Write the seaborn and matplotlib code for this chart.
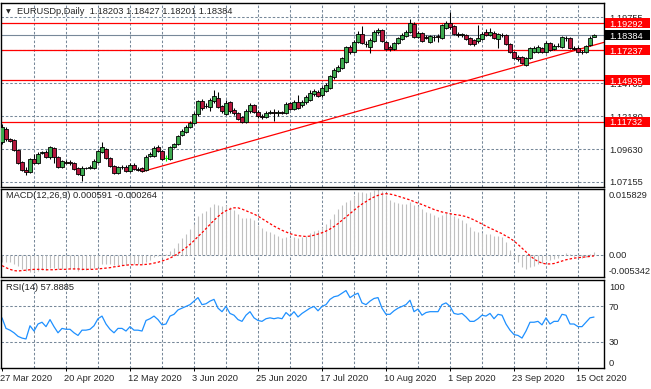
import numpy as np
import pandas as pd
import matplotlib
matplotlib.use("Agg")
import matplotlib.pyplot as plt
import matplotlib.transforms as mtransforms
from matplotlib.patches import Rectangle
import seaborn as sns

sns.set_style("white")
plt.rcParams['font.family'] = ['Liberation Sans', 'DejaVu Sans']

# ---------------- data ----------------
open_ = [1.1020, 1.1119, 1.1043, 1.1035, 1.0959, 1.0867, 1.0806, 1.0790, 1.0890, 1.0859,
         1.0936, 1.0943, 1.0905, 1.0974, 1.0905, 1.0829, 1.0867, 1.0867, 1.0859, 1.0821,
         1.0768, 1.0821, 1.0821, 1.0821, 1.0867, 1.0943, 1.0966, 1.0898, 1.0836, 1.0783,
         1.0829, 1.0829, 1.0798, 1.0844, 1.0813, 1.0821, 1.0806, 1.0913, 1.0913, 1.0982,
         1.0951, 1.0898, 1.0890, 1.0982, 1.1005, 1.1074, 1.1096, 1.1135, 1.1165, 1.1234,
         1.1334, 1.1295, 1.1288, 1.1334, 1.1356, 1.1295, 1.1234, 1.1326, 1.1265, 1.1242,
         1.1211, 1.1173, 1.1257, 1.1303, 1.1249, 1.1219, 1.1211, 1.1242, 1.1249, 1.1242,
         1.1249, 1.1242, 1.1318, 1.1272, 1.1326, 1.1303, 1.1326, 1.1341, 1.1387, 1.1402,
         1.1379, 1.1410, 1.1433, 1.1517, 1.1563, 1.1586, 1.1632, 1.1747, 1.1708, 1.1785,
         1.1846, 1.1770, 1.1747, 1.1793, 1.1861, 1.1877, 1.1785, 1.1747, 1.1731, 1.1777,
         1.1808, 1.1831, 1.1861, 1.1923, 1.1823, 1.1854, 1.1823, 1.1785, 1.1823, 1.1831,
         1.1816, 1.1892, 1.1930, 1.1907, 1.1846, 1.1839, 1.1839, 1.1816, 1.1800, 1.1793,
         1.1808, 1.1861, 1.1839, 1.1854, 1.1808, 1.1839, 1.1839, 1.1770, 1.1708, 1.1670,
         1.1670, 1.1609, 1.1663, 1.1708, 1.1708, 1.1739, 1.1708, 1.1777, 1.1731, 1.1754,
         1.1747, 1.1816, 1.1816, 1.1739, 1.1739, 1.1708, 1.1708, 1.1762, 1.18203]
high = [1.1158, 1.1135, 1.1051, 1.1043, 1.0966, 1.0875, 1.0829, 1.0898, 1.0928, 1.0943,
        1.0951, 1.0959, 1.0989, 1.0982, 1.0913, 1.0882, 1.0882, 1.0882, 1.0867, 1.0829,
        1.0836, 1.0829, 1.0844, 1.0890, 1.0959, 1.1020, 1.0974, 1.0905, 1.0844, 1.0836,
        1.0844, 1.0844, 1.0859, 1.0859, 1.0829, 1.0829, 1.0921, 1.0943, 1.0989, 1.0997,
        1.0959, 1.0921, 1.0989, 1.1012, 1.1074, 1.1119, 1.1150, 1.1181, 1.1249, 1.1341,
        1.1349, 1.1318, 1.1356, 1.1418, 1.1402, 1.1303, 1.1341, 1.1334, 1.1280, 1.1249,
        1.1219, 1.1272, 1.1318, 1.1311, 1.1265, 1.1234, 1.1257, 1.1265, 1.1272, 1.1265,
        1.1257, 1.1326, 1.1326, 1.1341, 1.1380, 1.1341, 1.1380, 1.1418, 1.1425, 1.1418,
        1.1448, 1.1471, 1.1532, 1.1586, 1.1609, 1.1670, 1.1754, 1.1762, 1.1800, 1.1869,
        1.1907, 1.1793, 1.1816, 1.1877, 1.1892, 1.1884, 1.1793, 1.1762, 1.1785, 1.1823,
        1.1854, 1.1877, 1.1961, 1.1938, 1.1869, 1.1861, 1.1839, 1.1839, 1.1839, 1.1846,
        1.1923, 1.1946, 1.2011, 1.1915, 1.1861, 1.1854, 1.1846, 1.1823, 1.1808, 1.1915,
        1.1861, 1.1884, 1.1892, 1.1869, 1.1854, 1.1854, 1.1846, 1.1777, 1.1716, 1.1685,
        1.1678, 1.1670, 1.1747, 1.1754, 1.1762, 1.1747, 1.1793, 1.1785, 1.1770, 1.1777,
        1.1831, 1.1831, 1.1823, 1.1754, 1.1754, 1.1724, 1.1762, 1.1831, 1.18427]
low = [1.1005, 1.1028, 1.1020, 1.0951, 1.0852, 1.0798, 1.0768, 1.0783, 1.0852, 1.0852,
       1.0928, 1.0898, 1.0890, 1.0859, 1.0821, 1.0821, 1.0852, 1.0844, 1.0806, 1.0768,
       1.0722, 1.0813, 1.0817, 1.0813, 1.0859, 1.0936, 1.0890, 1.0829, 1.0775, 1.0775,
       1.0813, 1.0790, 1.0790, 1.0806, 1.0798, 1.0790, 1.0798, 1.0905, 1.0905, 1.0943,
       1.0882, 1.0875, 1.0882, 1.0974, 1.0997, 1.1066, 1.1089, 1.1127, 1.1158, 1.1219,
       1.1265, 1.1280, 1.1257, 1.1318, 1.1280, 1.1242, 1.1227, 1.1242, 1.1227, 1.1188,
       1.1165, 1.1165, 1.1242, 1.1242, 1.1204, 1.1196, 1.1204, 1.1234, 1.1181, 1.1219,
       1.1234, 1.1234, 1.1265, 1.1265, 1.1272, 1.1288, 1.1311, 1.1334, 1.1372, 1.1364,
       1.1364, 1.1402, 1.1425, 1.1502, 1.1555, 1.1578, 1.1624, 1.1693, 1.1701, 1.1777,
       1.1770, 1.1747, 1.1701, 1.1785, 1.1846, 1.1785, 1.1724, 1.1716, 1.1724, 1.1770,
       1.1800, 1.1823, 1.1854, 1.1816, 1.1816, 1.1785, 1.1808, 1.1777, 1.1793, 1.1785,
       1.1808, 1.1884, 1.1884, 1.1839, 1.1823, 1.1823, 1.1800, 1.1762, 1.1754, 1.1777,
       1.1800, 1.1831, 1.1831, 1.1808, 1.1739, 1.1823, 1.1762, 1.1701, 1.1655, 1.1640,
       1.1617, 1.1605, 1.1655, 1.1701, 1.1701, 1.1701, 1.1701, 1.1716, 1.1724, 1.1747,
       1.1739, 1.1793, 1.1731, 1.1724, 1.1701, 1.1693, 1.1701, 1.1754, 1.18201]
close = [1.1135, 1.1043, 1.1028, 1.0959, 1.0859, 1.0806, 1.0790, 1.0890, 1.0859, 1.0928,
         1.0943, 1.0905, 1.0982, 1.0905, 1.0829, 1.0875, 1.0863, 1.0859, 1.0813, 1.0775,
         1.0821, 1.0823, 1.0829, 1.0875, 1.0951, 1.0982, 1.0898, 1.0836, 1.0783, 1.0829,
         1.0825, 1.0798, 1.0844, 1.0813, 1.0806, 1.0798, 1.0905, 1.0928, 1.0974, 1.0951,
         1.0890, 1.0898, 1.0982, 1.1005, 1.1066, 1.1104, 1.1135, 1.1165, 1.1234, 1.1334,
         1.1280, 1.1292, 1.1341, 1.1372, 1.1288, 1.1257, 1.1318, 1.1257, 1.1242, 1.1196,
         1.1173, 1.1257, 1.1303, 1.1249, 1.1219, 1.1211, 1.1242, 1.1249, 1.1242, 1.1249,
         1.1242, 1.1311, 1.1272, 1.1326, 1.1280, 1.1326, 1.1364, 1.1395, 1.1410, 1.1372,
         1.1433, 1.1456, 1.1525, 1.1571, 1.1594, 1.1663, 1.1747, 1.1708, 1.1785, 1.1846,
         1.1777, 1.1766, 1.1800, 1.1861, 1.1877, 1.1793, 1.1731, 1.1731, 1.1777, 1.1816,
         1.1839, 1.1861, 1.1930, 1.1823, 1.1854, 1.1793, 1.1819, 1.1831, 1.1827, 1.1827,
         1.1915, 1.1930, 1.1900, 1.1846, 1.1839, 1.1846, 1.1808, 1.1770, 1.1770, 1.1816,
         1.1846, 1.1839, 1.1861, 1.1816, 1.1846, 1.1835, 1.1770, 1.1708, 1.1663, 1.1655,
         1.1624, 1.1663, 1.1739, 1.1739, 1.1747, 1.1708, 1.1777, 1.1724, 1.1754, 1.1758,
         1.1823, 1.1812, 1.1739, 1.1735, 1.1708, 1.1712, 1.1754, 1.1816, 1.18384]

macd_main = [-0.0018, -0.0017, -0.0018, -0.0021, -0.0027, -0.0034, -0.0040, -0.0041, -0.0042, -0.0040,
             -0.0037, -0.0036, -0.0032, -0.0032, -0.0034, -0.0034, -0.0034, -0.0034, -0.0035, -0.0038,
             -0.0037, -0.0036, -0.0035, -0.0032, -0.0027, -0.0022, -0.0021, -0.0022, -0.0025, -0.0025,
             -0.0025, -0.0025, -0.0023, -0.0023, -0.0023, -0.0023, -0.0017, -0.0012, -0.0006, -0.0003,
             -0.0002, 0.0001, 0.0009, 0.0017, 0.0029, 0.0040, 0.0051, 0.0061, 0.0075, 0.0093,
             0.0101, 0.0106, 0.0114, 0.0122, 0.0121, 0.0117, 0.0119, 0.0114, 0.0108, 0.0099,
             0.0089, 0.0088, 0.0089, 0.0084, 0.0072, 0.0064, 0.0058, 0.0054, 0.0049, 0.0045,
             0.0041, 0.0044, 0.0041, 0.0044, 0.0040, 0.0042, 0.0046, 0.0052, 0.0058, 0.0060,
             0.0067, 0.0074, 0.0085, 0.0097, 0.0110, 0.0119, 0.0128, 0.0133, 0.0141, 0.0150,
             0.0150, 0.0148, 0.0150, 0.0156, 0.015829, 0.0153, 0.0143, 0.0133, 0.0127, 0.0124,
             0.0122, 0.0122, 0.0127, 0.0121, 0.0117, 0.0109, 0.0104, 0.0100, 0.0096, 0.0092,
             0.0096, 0.0100, 0.0099, 0.0094, 0.0088, 0.0084, 0.0077, 0.0067, 0.0058, 0.0054,
             0.0053, 0.0051, 0.0051, 0.0046, 0.0046, 0.0044, 0.0030, 0.0012, -0.0005, -0.0018,
             -0.0030, -0.0034, -0.0030, -0.0027, -0.0022, -0.0020, -0.0013, -0.0012, -0.0009, -0.0007,
             0.0000, 0.0004, 0.0001, -0.0002, -0.0006, -0.0008, -0.0005, 0.0001, 0.000591]
macd_signal = [-0.0026, -0.0031, -0.0035, -0.0038, -0.0039, -0.0038, -0.0037, -0.0036, -0.0035, -0.0035,
               -0.0035, -0.0036, -0.0036, -0.0036, -0.0035, -0.0035, -0.0035, -0.0034, -0.0034, -0.0034,
               -0.0035, -0.0035, -0.0035, -0.0035, -0.0034, -0.0033, -0.0032, -0.0031, -0.0029, -0.0028,
               -0.0026, -0.0025, -0.0024, -0.0024, -0.0024, -0.0024, -0.0023, -0.0022, -0.0020, -0.0018,
               -0.0015, -0.0012, -0.0008, -0.0003, 0.0003, 0.0010, 0.0017, 0.0025, 0.0034, 0.0044,
               0.0053, 0.0063, 0.0073, 0.0083, 0.0092, 0.0100, 0.0106, 0.0110, 0.0113, 0.0113,
               0.0110, 0.0106, 0.0102, 0.0098, 0.0093, 0.0087, 0.0081, 0.0075, 0.0069, 0.0064,
               0.0059, 0.0055, 0.0051, 0.0048, 0.0046, 0.0045, 0.0044, 0.0045, 0.0047, 0.0050,
               0.0053, 0.0057, 0.0062, 0.0068, 0.0075, 0.0083, 0.0091, 0.0099, 0.0107, 0.0115,
               0.0122, 0.0128, 0.0134, 0.0139, 0.0143, 0.0146, 0.0147, 0.0146, 0.0144, 0.0141,
               0.0138, 0.0135, 0.0132, 0.0128, 0.0124, 0.0121, 0.0117, 0.0113, 0.0109, 0.0106,
               0.0103, 0.0101, 0.0099, 0.0097, 0.0096, 0.0094, 0.0092, 0.0088, 0.0084, 0.0079,
               0.0074, 0.0069, 0.0064, 0.0060, 0.0055, 0.0051, 0.0045, 0.0040, 0.0033, 0.0025,
               0.0016, 0.0007, -0.0002, -0.0010, -0.0016, -0.0020, -0.0022, -0.0022, -0.0021, -0.0018,
               -0.0015, -0.0012, -0.0010, -0.0008, -0.0007, -0.0006, -0.0005, -0.0004, -0.000264]
rsi = [57, 45, 43, 40, 36, 34, 33, 48, 42, 50,
       52, 47, 55, 47, 40, 45, 44, 44, 40, 37,
       43, 43, 44, 48, 56, 59, 50, 44, 40, 45,
       45, 42, 47, 43, 43, 42, 54, 56, 59, 55,
       49, 50, 59, 61, 66, 68, 70, 72, 76, 80,
       72, 73, 76, 78, 68, 64, 70, 62, 60, 55,
       53, 60, 64, 57, 54, 53, 56, 57, 56, 57,
       56, 63, 59, 64, 58, 62, 65, 68, 70, 65,
       70, 72, 78, 81, 82, 85, 88, 80, 83, 85,
       74, 72, 76, 79, 80, 68, 61, 61, 65, 68,
       70, 72, 77, 64, 67, 60, 63, 64, 64, 64,
       72, 74, 70, 62, 61, 62, 58, 53, 53, 56,
       60, 59, 62, 56, 61, 60, 50, 43, 38, 37,
       34, 42, 52, 52, 53, 49, 57, 50, 53, 53,
       61, 60, 50, 50, 47, 47, 52, 57, 57.8885]

date_labels = ["27 Mar 2020", "20 Apr 2020", "12 May 2020", "3 Jun 2020", "25 Jun 2020",
               "17 Jul 2020", "10 Aug 2020", "1 Sep 2020", "23 Sep 2020", "15 Oct 2020"]
date_label_bars = [0, 16, 32, 48, 64, 80, 96, 112, 128, 144]
grid_bars = [8, 16, 24, 32, 40, 48, 56, 64, 72, 80, 88, 96, 104, 112, 120, 128, 136, 144]
price_grid = [1.07155, 1.09630, 1.12180, 1.14705, 1.17230, 1.19755]
level_lines = [1.19292, 1.17237, 1.14935, 1.11732]
current_price = 1.18384
trend_points_bar = [35, 148]
trend_points_price = [1.0793, 1.1761]
price_limits = [1.06756, 1.20833]
macd_limits = [-0.005342, 0.015829]

# ---------------- figure layout (pixel based) ----------------
W, H = 651, 389
fig = plt.figure(figsize=(W / 100, H / 100), dpi=100, facecolor='white')

def rect(l, t, r, b):
    return [l / W, 1 - b / H, (r - l) / W, (b - t) / H]

ax = fig.add_axes(rect(1, 3, 604, 187))
axm = fig.add_axes(rect(1, 189, 604, 277))
axr = fig.add_axes(rect(1, 280, 604, 368))

n = len(close)
idx = np.arange(n)
XL = (-0.25, 150.5)
FS = 6.7
GRID = '#778899'
DASH = (0, (2.4, 1.8))
GREEN = '#3daa4f'
RED = '#b5163c'

for a in (ax, axm, axr):
    a.set_facecolor('white')
    a.set_xlim(*XL)
    a.set_xticks([])
    a.set_yticks([])
    for s in a.spines.values():
        s.set_color('black')
        s.set_linewidth(1.0)
    for b in grid_bars:
        a.axvline(b, color=GRID, lw=0.75, ls=DASH, zorder=0)

# ---------------- main price panel ----------------
ax.set_ylim(*price_limits)
for g in price_grid:
    ax.axhline(g, color=GRID, lw=0.75, ls=DASH, zorder=0)
ax.axhline(current_price, color=GRID, lw=0.8, zorder=1)
for lv in level_lines:
    ax.axhline(lv, color='#ff0000', lw=0.9, zorder=1)

# trend line (ray)
tb = np.array(trend_points_bar, dtype=float)
tp = np.array(trend_points_price)
slope = (tp[1] - tp[0]) / (tb[1] - tb[0])
ax.plot([tb[0], XL[1]], [tp[0], tp[0] + slope * (XL[1] - tb[0])], color='#ff0000', lw=0.9, zorder=2)

for i in range(n):
    o, h, l, c = open_[i], high[i], low[i], close[i]
    if o == c:
        ax.vlines(i, l, h, color='#00ff00', lw=0.8, zorder=3)
        ax.hlines(o, i - 0.45, i + 0.45, color='#00ff00', lw=0.8, zorder=3)
        continue
    ax.vlines(i, l, h, color='black', lw=0.75, zorder=3)
    fc = GREEN if c > o else RED
    ax.add_patch(Rectangle((i - 0.4, min(o, c)), 0.8, abs(c - o), facecolor=fc,
                           edgecolor='black', lw=0.6, zorder=4))

ax.text(7 / 603, 1 - 9 / 184, '\u25BC', transform=ax.transAxes, fontsize=4.5,
        family='DejaVu Sans', ha='center', va='center')
ax.text(16 / 603, 1 - 9 / 184, 'EURUSDp,Daily  1.18203 1.18427 1.18201 1.18384',
        transform=ax.transAxes, fontsize=FS, ha='left', va='center')

XLAB = (609 - 1) / 603
BX0 = (605 - 1) / 603
BW = 45 / 603
ppx = (price_limits[1] - price_limits[0]) / 184.0
tr_main = mtransforms.blended_transform_factory(ax.transAxes, ax.transData)
for g in price_grid:
    ax.text(XLAB, g, f'{g:.5f}', transform=tr_main, fontsize=FS, ha='left',
            va='center_baseline', clip_on=False, zorder=5)
for lv, colr in [(lv, '#ff0000') for lv in level_lines] + [(current_price, 'black')]:
    ax.add_patch(Rectangle((BX0, lv - 5.2 * ppx), BW, 10.4 * ppx, transform=tr_main,
                           facecolor=colr, edgecolor='none', clip_on=False, zorder=6))
    ax.text(XLAB, lv, f'{lv:.5f}', transform=tr_main, fontsize=FS, ha='left',
            va='center_baseline', color='white', clip_on=False, zorder=7)

# ---------------- MACD panel ----------------
axm.set_ylim(*macd_limits)
axm.axhline(0, color=GRID, lw=0.75, ls=DASH, zorder=0)
axm.vlines(idx, 0, macd_main, color='#c0c0c0', lw=0.8, zorder=1)
sns.lineplot(x=idx, y=macd_signal, ax=axm, color='#ff0000', lw=0.9,
             linestyle=(0, (2.0, 1.6)), zorder=2)
axm.set_xlim(*XL)
axm.set_ylim(*macd_limits)
axm.set_xticks([]); axm.set_yticks([])
axm.set_xlabel(''); axm.set_ylabel('')
axm.text(5 / 603, 1 - 7 / 88, 'MACD(12,26,9) 0.000591 -0.000264', transform=axm.transAxes,
         fontsize=FS, ha='left', va='center', color='#222222')
tr_m = mtransforms.blended_transform_factory(axm.transAxes, axm.transData)
axm.text(XLAB, 1 - 6 / 88, f'{macd_limits[1]:.6f}', transform=axm.transAxes, fontsize=FS,
         ha='left', va='center_baseline', clip_on=False)
axm.text(XLAB, 0, '0.00', transform=tr_m, fontsize=FS, ha='left', va='center_baseline', clip_on=False)
axm.text(XLAB, 6 / 88, f'{macd_limits[0]:.6f}', transform=axm.transAxes, fontsize=FS,
         ha='left', va='center_baseline', clip_on=False)

# ---------------- RSI panel ----------------
axr.set_ylim(0, 100)
for lv in (70, 30):
    axr.axhline(lv, color=GRID, lw=0.75, ls=DASH, zorder=0)
sns.lineplot(x=idx, y=rsi, ax=axr, color='#1e90ff', lw=0.9, zorder=2)
axr.set_xlim(*XL)
axr.set_ylim(0, 100)
axr.set_yticks([])
axr.set_xlabel(''); axr.set_ylabel('')
axr.text(5 / 603, 1 - 7 / 88, 'RSI(14) 57.8885', transform=axr.transAxes,
         fontsize=FS, ha='left', va='center', color='#222222')
tr_r = mtransforms.blended_transform_factory(axr.transAxes, axr.transData)
axr.text(XLAB, 1 - 6 / 88, '100', transform=axr.transAxes, fontsize=FS, ha='left',
         va='center_baseline', clip_on=False)
axr.text(XLAB, 70, '70', transform=tr_r, fontsize=FS, ha='left', va='center_baseline', clip_on=False)
axr.text(XLAB, 30, '30', transform=tr_r, fontsize=FS, ha='left', va='center_baseline', clip_on=False)
axr.text(XLAB, 6 / 88, '0', transform=axr.transAxes, fontsize=FS, ha='left',
         va='center_baseline', clip_on=False)

# date ticks and labels
axr.set_xticks(date_label_bars)
axr.set_xticklabels([])
axr.tick_params(axis='x', direction='out', length=2.5, width=0.7, color='black', bottom=True)
tr_d = mtransforms.blended_transform_factory(axr.transData, axr.transAxes)
for b, lab in zip(date_label_bars, date_labels):
    axr.text(b - 0.45, -9.5 / 88, lab, transform=tr_d, fontsize=FS, ha='left',
             va='center_baseline', clip_on=False)

fig.savefig('out.png', dpi=100, facecolor='white')
